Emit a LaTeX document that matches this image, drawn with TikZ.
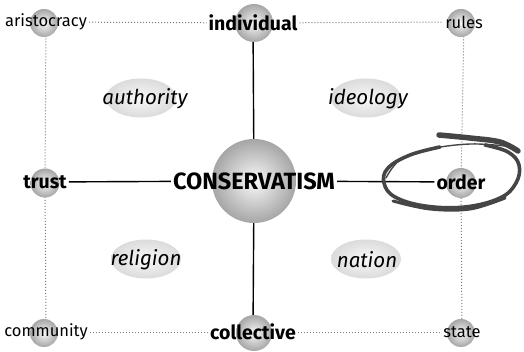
\documentclass[tikz,border=0pt]{standalone}
\usepackage{fontspec}
\setmainfont{Fira Sans}
\usetikzlibrary{positioning,backgrounds,shapes.geometric}
\definecolor{linegray}{HTML}{7A7A7A}
\definecolor{penstroke}{HTML}{454545}
\tikzset{
  ball/.style={
    circle,
    inner sep=0pt,
    minimum size=#1,
    shading=radial,
    inner color=gray!5,
    outer color=gray!70
  },
  haze/.style={
    ellipse,
    inner sep=0pt,
    minimum width=70pt,
    minimum height=39pt,
    shading=radial,
    inner color=gray!5,
    outer color=gray!28
  },
  pole/.style={inner sep=2pt, font=\fontsize{16.5}{18}\selectfont},
  axis/.style={inner sep=2pt, font=\bfseries\fontsize{19.5}{21}\selectfont},
  theme/.style={inner sep=1pt, font=\itshape\fontsize{20.5}{22}\selectfont},
  core/.style={inner sep=2pt, font=\bfseries\fontsize{23.5}{25}\selectfont},
  link/.style={draw=black, line width=1.4pt},
  grid/.style={draw=linegray, dotted, line width=1pt},
  pen/.style={draw=penstroke, line cap=round, line join=round}
}

\begin{document}
\begin{tikzpicture}[x=1pt, y=-1pt]
  \useasboundingbox (0,0) rectangle (524,352);

  % spheres
  \node[ball=84pt] (cons-b) at (254,181) {};
  \node[ball=38pt] (individual-b) at (254,23) {};
  \node[ball=36pt] (collective-b) at (254,333) {};
  \node[ball=28pt] (aristocracy-b) at (44,23) {};
  \node[ball=29pt] (trust-b) at (45,183) {};
  \node[ball=28pt] (community-b) at (44,333) {};
  \node[ball=28pt] (rules-b) at (461,23) {};
  \node[ball=30pt] (order-b) at (461,183) {};
  \node[ball=28pt] (state-b) at (461,333) {};

  % themes
  \node[haze] (authority-b) at (141,98) {};
  \node[haze] (ideology-b) at (366,98) {};
  \node[haze] (religion-b) at (146,259) {};
  \node[haze] (nation-b) at (366,259) {};
  \node[theme] (authority) at (145,99) {authority};
  \node[theme] (ideology) at (368,99) {ideology};
  \node[theme] (religion) at (146,260) {religion};
  \node[theme] (nation) at (367,260) {nation};

  % labels
  \node[core] (cons) at (254,181) {CONSERVATISM};
  \node[axis] (individual) at (253,23) {individual};
  \node[axis] (collective) at (253,332) {collective};
  \node[axis] (trust) at (45,182) {trust};
  \node[axis] (order) at (461,182) {order};
  \node[pole] (aristocracy) at (46,22) {aristocracy};
  \node[pole] (rules) at (464,22) {rules};
  \node[pole] (community) at (46,332) {community};
  \node[pole] (state) at (462,332) {state};

  \begin{scope}[on background layer]
    \draw[link] (individual) -- (cons);
    \draw[link] (collective) -- (cons);
    \draw[grid] (aristocracy) -- (trust);
    \draw[grid] (trust) -- (community);
    \draw[grid] (rules) -- (order);
    \draw[grid] (order) -- (state);
  \end{scope}
  \draw[link] (trust) -- (cons);
  \draw[link] (cons) -- (order);
  \draw[grid] (aristocracy) -- (individual);
  \draw[grid] (individual) -- (rules);
  \draw[grid] (community) -- (collective);
  \draw[grid] (collective) -- (state);

  % hand-drawn ring round order
  \draw[pen, line width=3.6pt] plot[smooth, tension=0.65] coordinates {
    (440,147) (410,155) (388,168) (384,183) (395,197) (425,206)
    (465,207) (500,198) (516,183) (519,165) (508,152) (485,145)};
  \draw[pen, line width=1.4pt] plot[smooth, tension=0.6] coordinates {
    (386,178) (400,160) (430,149) (470,144) (505,146)};
  \draw[pen, line width=5.5pt] plot[smooth, tension=0.6] coordinates {
    (439,135) (470,138) (500,142) (518,151)};
  \draw[pen, line width=3pt] plot[smooth, tension=0.6] coordinates {
    (393,201) (430,209) (470,209) (505,198)};
\end{tikzpicture}
\end{document}
